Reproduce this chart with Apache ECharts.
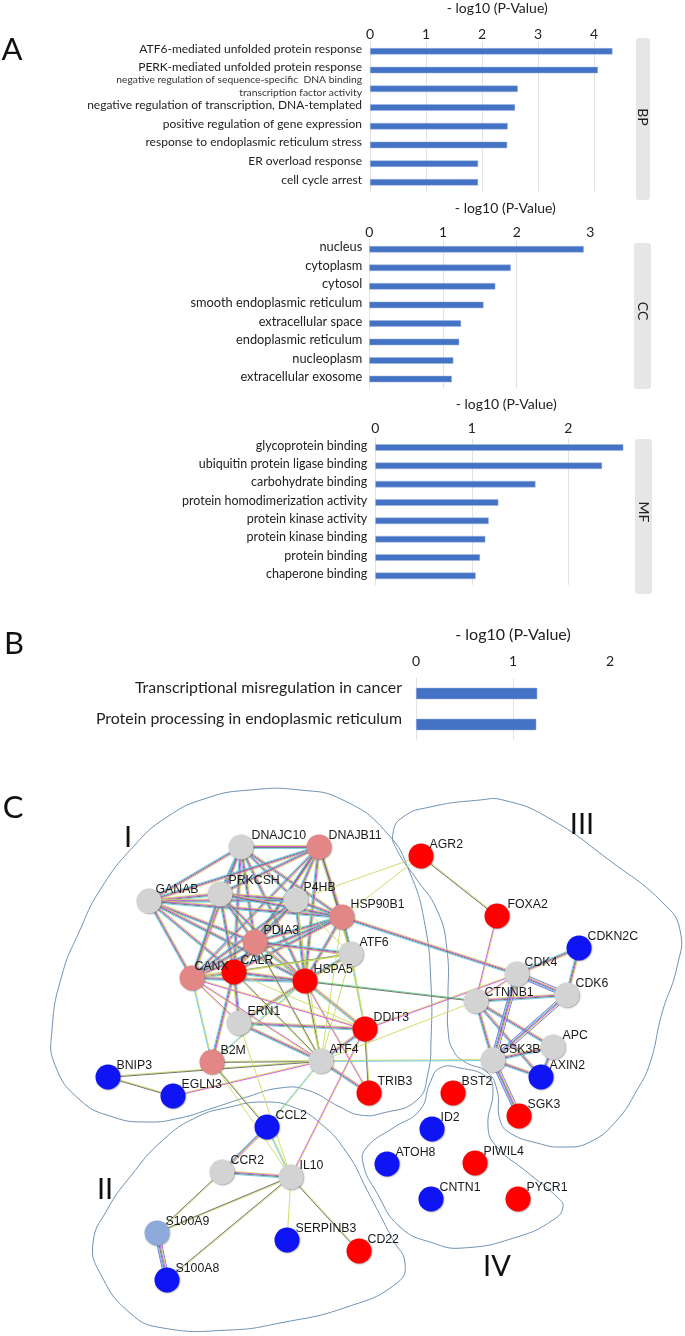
<!DOCTYPE html>
<html><head><meta charset="utf-8">
<style>html,body{margin:0;padding:0;background:#fff}#c{width:685px;height:1336px;filter:blur(0.4px)}</style>
<script src="https://cdn.jsdelivr.net/npm/echarts@6/dist/echarts.min.js"></script>
</head><body><div id="c"></div>
<script>
const axisTitle = '- log10 (P-Value)';
const bpCategories = ['ATF6-mediated unfolded protein response','PERK-mediated unfolded protein response','negative regulation of sequence-specific  DNA binding\ntranscription factor activity','negative regulation of transcription, DNA-templated','positive regulation of gene expression','response to endoplasmic reticulum stress','ER overload response','cell cycle arrest'];
const bpValues = [4.33,4.07,2.64,2.59,2.46,2.45,1.93,1.93];
const ccCategories = ['nucleus','cytoplasm','cytosol','smooth endoplasmic reticulum','extracellular space','endoplasmic reticulum','nucleoplasm','extracellular exosome'];
const ccValues = [2.91,1.92,1.71,1.55,1.245,1.22,1.14,1.12];
const mfCategories = ['glycoprotein binding','ubiquitin protein ligase binding','carbohydrate binding','protein homodimerization activity','protein kinase activity','protein kinase binding','protein binding','chaperone binding'];
const mfValues = [2.57,2.35,1.66,1.275,1.175,1.14,1.085,1.04];
const pathCategories = ['Transcriptional misregulation in cancer','Protein processing in endoplasmic reticulum'];
const pathValues = [1.25,1.24];

const nodeNames = ['DNAJC10','DNAJB11','GANAB','PRKCSH','P4HB','HSP90B1','PDIA3','ATF6','CANX','CALR','HSPA5','ERN1','DDIT3','B2M','ATF4','TRIB3','BNIP3','EGLN3','AGR2','FOXA2','CDKN2C','CDK4','CDK6','CTNNB1','APC','GSK3B','AXIN2','BST2','SGK3','ID2','ATOH8','PIWIL4','CNTN1','PYCR1','CCL2','CCR2','IL10','S100A9','S100A8','SERPINB3','CD22'];
const nodeX = [241,319,149,220,296,342,255,351,192,234,305,239,365,212,321,369,108,173,421,497,579,517,567,476,553,493,541,453,519,432,387,475,431,518,267,222,291,157,167,287,359];
const nodeY = [847,847,901,894,900,917,942,954,978,972,981,1023,1029,1062,1061,1093,1077,1096,856,916,948,974,995,1001,1047,1060,1077,1093,1116,1129,1164,1163,1199,1199,1127,1172,1177,1233,1280,1240,1251];
const nodeTone = ['g','p','g','g','g','p','p','g','p','r','r','g','r','p','g','r','b','b','r','r','b','g','g','g','g','g','b','r','r','b','b','r','b','r','b','g','g','l','b','b','r'];
const coreProteins = ['DNAJC10','DNAJB11','GANAB','PRKCSH','P4HB','HSP90B1','PDIA3','CANX','CALR','HSPA5'];
const edgeList = [
['ATF6','HSPA5','F'],['ATF6','HSP90B1','F'],['ATF6','CALR','T'],['ATF6','PDIA3','F'],['ATF6','P4HB','Y'],['ATF6','DNAJB11','T'],['ATF6','ATF4','Y'],['ATF6','DDIT3','C'],['ATF6','CANX','Y'],
['ERN1','HSPA5','F'],['ERN1','CALR','F'],['ERN1','CANX','M'],['ERN1','ATF4','F'],['ERN1','DDIT3','F'],['ERN1','ATF6','Y'],['CALR','B2M','F'],['CANX','B2M','C'],['HSPA5','B2M','C'],
['ATF4','DDIT3','F'],['ATF4','HSPA5','T'],['ATF4','TRIB3','F'],['ATF4','CALR','T'],['ATF4','CANX','M'],['ATF4','PDIA3','T'],['ATF4','HSP90B1','Y'],['ATF4','P4HB','Y'],
['B2M','ATF4','T'],['BNIP3','ATF4','T'],['EGLN3','ATF4','M'],['BNIP3','EGLN3','T'],['HSPA5','DDIT3','F'],['HSPA5','TRIB3','M'],['DDIT3','TRIB3','T'],['ATF4','GSK3B','C'],['DDIT3','CDK4','M'],['ATF4','CTNNB1','Y'],['HSPA5','CTNNB1','G'],['HSP90B1','CDK4','F'],
['AGR2','P4HB','Y'],['AGR2','HSP90B1','Y'],['AGR2','FOXA2','T'],['FOXA2','CTNNB1','M'],
['CDKN2C','CDK4','F'],['CDKN2C','CDK6','F'],['CDK4','CDK6','B'],['CDK4','CTNNB1','M'],['CTNNB1','CDK6','F'],['CTNNB1','APC','F'],['CTNNB1','GSK3B','F'],['CTNNB1','AXIN2','F'],['CDK4','GSK3B','B'],['CDK6','GSK3B','B'],['GSK3B','APC','F'],['GSK3B','AXIN2','F'],['APC','AXIN2','F'],['GSK3B','SGK3','B'],
['CALR','DDIT3','Y'],['CANX','DDIT3','M'],['PDIA3','DDIT3','Y'],['HSP90B1','DDIT3','Y'],['B2M','CCL2','T'],['B2M','IL10','Y'],['ERN1','IL10','Y'],['ATF4','CCL2','C'],['DDIT3','IL10','M'],
['CCL2','CCR2','F'],['CCL2','IL10','C'],['CCR2','IL10','F'],['CCR2','S100A9','T'],['IL10','S100A9','T'],['IL10','S100A8','T'],['IL10','SERPINB3','Y'],['IL10','CD22','T'],['S100A9','S100A8','B']
];
const blobI = [[100,890],[133,847],[167,817],[207,798],[250,790],[300,790],[343,800],[387,833],[410,873],[425,925],[431,985],[431,1040],[428,1073],[417,1100],[383,1113],[360,1115],[340,1107],[307,1090],[280,1088],[247,1097],[213,1108],[180,1118],[147,1122],[113,1117],[80,1100],[55,1065],[52,1030],[62,975],[80,930]];
const blobII = [[263,1102],[293,1107],[320,1123],[347,1153],[367,1190],[393,1240],[405,1263],[397,1283],[347,1307],[280,1323],[230,1330],[163,1328],[130,1313],[100,1273],[93,1243],[107,1210],[130,1177],[163,1140],[197,1117],[230,1107]];
const blobIII = [[393,833],[403,817],[430,807],[480,800],[503,800],[547,817],[613,863],[663,903],[680,930],[677,967],[662,1013],[650,1063],[637,1090],[617,1120],[590,1142],[563,1147],[537,1143],[510,1133],[500,1120],[497,1090],[487,1072],[465,1062],[453,1050],[448,1030],[448,1000],[447,950],[437,910],[415,877],[397,850]];
const blobIV = [[440,1068],[460,1068],[487,1077],[493,1090],[488,1127],[497,1147],[527,1172],[557,1197],[563,1207],[553,1220],[517,1237],[463,1248],[433,1243],[400,1227],[377,1193],[363,1163],[367,1147],[393,1128],[420,1110],[430,1083]];
const blobs = [blobI, blobII, blobIII, blobIV];

const FONT = 'Lato';
const toneColor = {g:'#d3d3d3',p:'#e38686',r:'#ff0000',b:'#0f14f5',l:'#8eaadb'};
const strand = {y:'#c9dc5c',m:'#d84fd8',d:'#666666',c:'#62c8e2',u:'#6a6ae8',n:'#5ccf78'};
const kinds = {F:['y','m','d','c'],B:['u','y','m','d','c','u'],T:['y','d'],Y:['y'],M:['y','m'],C:['y','c'],G:['n','d']};
const labelNudge = {DNAJC10:[2,0],DNAJB11:[1,0],GANAB:[-2,0],CANX:[-6,0],CALR:[-2,0],PRKCSH:[0,-2],P4HB:[-1,-1],HSP90B1:[0,-1],CDK4:[-1,0],CTNNB1:[0,3],GSK3B:[-2,1],FOXA2:[2,0],APC:[1,0]};

const edgesAll = [];
for (let i=0;i<coreProteins.length;i++) for (let j=i+1;j<coreProteins.length;j++) edgesAll.push([coreProteins[i],coreProteins[j],'F']);
edgeList.forEach(e=>edgesAll.push(e));
const edgeData = edgesAll.map(e=>{const a=nodeNames.indexOf(e[0]),b=nodeNames.indexOf(e[1]);return [nodeX[a],nodeY[a],nodeX[b],nodeY[b],Object.keys(kinds).indexOf(e[2])];});

function panel(i, o){
  return {
    grid:{left:o.left,top:o.top,height:o.height,width:o.unit*o.max,containLabel:false},
    xAxis:{gridIndex:i,type:'value',position:'top',min:0,max:o.max,interval:1,
      name:axisTitle,nameLocation:'middle',nameGap:o.nameGap,
      nameTextStyle:{fontFamily:FONT,fontSize:o.nameSize,color:'#222',padding:[0,0,0,o.nameShift]},
      axisLine:{show:false},axisTick:{show:false},
      splitLine:{show:true,showMaxLine:false,lineStyle:{color:'#e2e2e2',width:1}},
      axisLabel:{fontFamily:FONT,fontSize:14,color:'#222',margin:o.tickMargin,showMaxLabel:Number.isInteger(o.max)}},
    yAxis:{gridIndex:i,type:'category',inverse:true,
      axisLine:{show:true,lineStyle:{color:'#e2e2e2'}},axisTick:{show:false},
      axisLabel:{fontFamily:FONT,fontSize:o.font,color:'#222',margin:o.margin,padding:[0,0,o.lift,0],
        formatter:v=>v.includes('\n')?v.split('\n').map(s=>'{s|'+s+'}').join('\n'):v,
        rich:{s:{fontFamily:FONT,fontSize:10.3,color:'#333',lineHeight:12.5,align:'right'}}}}
  };
}
const panels = [
  panel(0,{left:370,top:41.7,height:150,unit:56,max:4.4,nameShift:8,nameGap:27,nameSize:14,tickMargin:1,margin:8,font:12,lift:5}),
  panel(1,{left:369.3,top:240,height:148.3,unit:73.7,max:3,nameShift:51,nameGap:25,nameSize:14,tickMargin:1,margin:7,font:12.8,lift:4}),
  panel(2,{left:375.3,top:438.3,height:146.7,unit:96.5,max:2.65,nameShift:6,nameGap:27,nameSize:14,tickMargin:3,margin:8,font:12.5,lift:4}),
  panel(3,{left:416,top:678,height:62,unit:97,max:2,nameShift:0,nameGap:35,nameSize:16,tickMargin:10,margin:14,font:15.9,lift:11})
];
const pageIdx = 4;
const bars = [[bpCategories,bpValues],[ccCategories,ccValues],[mfCategories,mfValues],[pathCategories,pathValues]];
panels.forEach((p,i)=>{p.yAxis.data=bars[i][0];});

const series = bars.map((b,i)=>({type:'bar',xAxisIndex:i,yAxisIndex:i,data:b[1],barWidth:i===3?11.5:6.5,
  itemStyle:{color:'#4472c4',borderColor:'#9db5e0',borderWidth:0.5},silent:true,z:3}));

series.push({type:'custom',coordinateSystem:'cartesian2d',xAxisIndex:pageIdx,yAxisIndex:pageIdx,clip:false,silent:true,z:2,
  data:blobs.map((_,i)=>[i]),encode:{x:0},
  renderItem:(params,api)=>({type:'polygon',shape:{points:blobs[api.value(0)].map(p=>api.coord(p)),smooth:0.5},
    style:{fill:'none',stroke:'#6f93b3',lineWidth:1}})});

const kindKeys = Object.keys(kinds);
series.push({type:'custom',coordinateSystem:'cartesian2d',xAxisIndex:pageIdx,yAxisIndex:pageIdx,clip:false,silent:true,z:4,
  data:edgeData,encode:{x:[0,2],y:[1,3]},
  renderItem:(params,api)=>{
    const a=api.coord([api.value(0),api.value(1)]),b=api.coord([api.value(2),api.value(3)]);
    const k=kinds[kindKeys[api.value(4)]];
    const dx=b[0]-a[0],dy=b[1]-a[1],len=Math.hypot(dx,dy)||1,nx=-dy/len,ny=dx/len,gap=0.95;
    return {type:'group',children:k.map((c,i)=>{const o=(i-(k.length-1)/2)*gap;
      return {type:'line',shape:{x1:a[0]+nx*o,y1:a[1]+ny*o,x2:b[0]+nx*o,y2:b[1]+ny*o},
        style:{stroke:strand[c],lineWidth:1,opacity:0.9}};})};
  }});

series.push({type:'scatter',xAxisIndex:pageIdx,yAxisIndex:pageIdx,symbolSize:25,clip:false,silent:true,z:5,
  data:nodeNames.map((n,i)=>{const nudge=labelNudge[n]||[0,0];return {name:n,value:[nodeX[i],nodeY[i]],
    itemStyle:{opacity:1,color:toneColor[nodeTone[i]],shadowColor:'rgba(90,90,90,0.55)',shadowBlur:1.5,shadowOffsetX:0.7,shadowOffsetY:0.7},
    label:{show:true,formatter:n,position:'right',distance:-4,offset:[nudge[0],-11+nudge[1]],
      fontFamily:'Liberation Sans',fontSize:12.3,color:'#1a1a1a'}};})});

function sideBox(x,y,w,h,t,cy){
  return [{type:'rect',shape:{x,y,width:w,height:h,r:3},style:{fill:'#e6e6e6'},z:1},
    {type:'text',x:x+w/2,y:cy,rotation:-Math.PI/2,style:{text:t,fontFamily:FONT,fontSize:14,fill:'#222',align:'center',verticalAlign:'middle'},z:2}];
}
function big(x,y,t,size){return {type:'text',x,y,style:{text:t,fontFamily:FONT,fontSize:size,fill:'#111',align:'center',verticalAlign:'middle'},z:6};}

const option = {
  backgroundColor:'#fff',animation:false,
  grid:[...panels.map(p=>p.grid),{left:0,top:0,width:685,height:1336}],
  xAxis:[...panels.map(p=>p.xAxis),{gridIndex:pageIdx,type:'value',min:0,max:685,show:false}],
  yAxis:[...panels.map(p=>p.yAxis),{gridIndex:pageIdx,type:'value',min:0,max:1336,inverse:true,show:false}],
  series,
  graphic:{elements:[
    ...sideBox(636,38,14,162,'BP',117),...sideBox(634,243,17,146,'CC',311),...sideBox(635,439,17,155,'MF',512),
    big(12,50,'A',31),big(14,644,'B',31),big(13,808,'C',31),
    big(128,838,'I',29),big(105,1190,'II',29),big(582,825,'III',29),big(497,1267,'IV',29)
  ]}
};
echarts.init(document.getElementById('c'),null,{renderer:'canvas'}).setOption(option);
</script></body></html>
